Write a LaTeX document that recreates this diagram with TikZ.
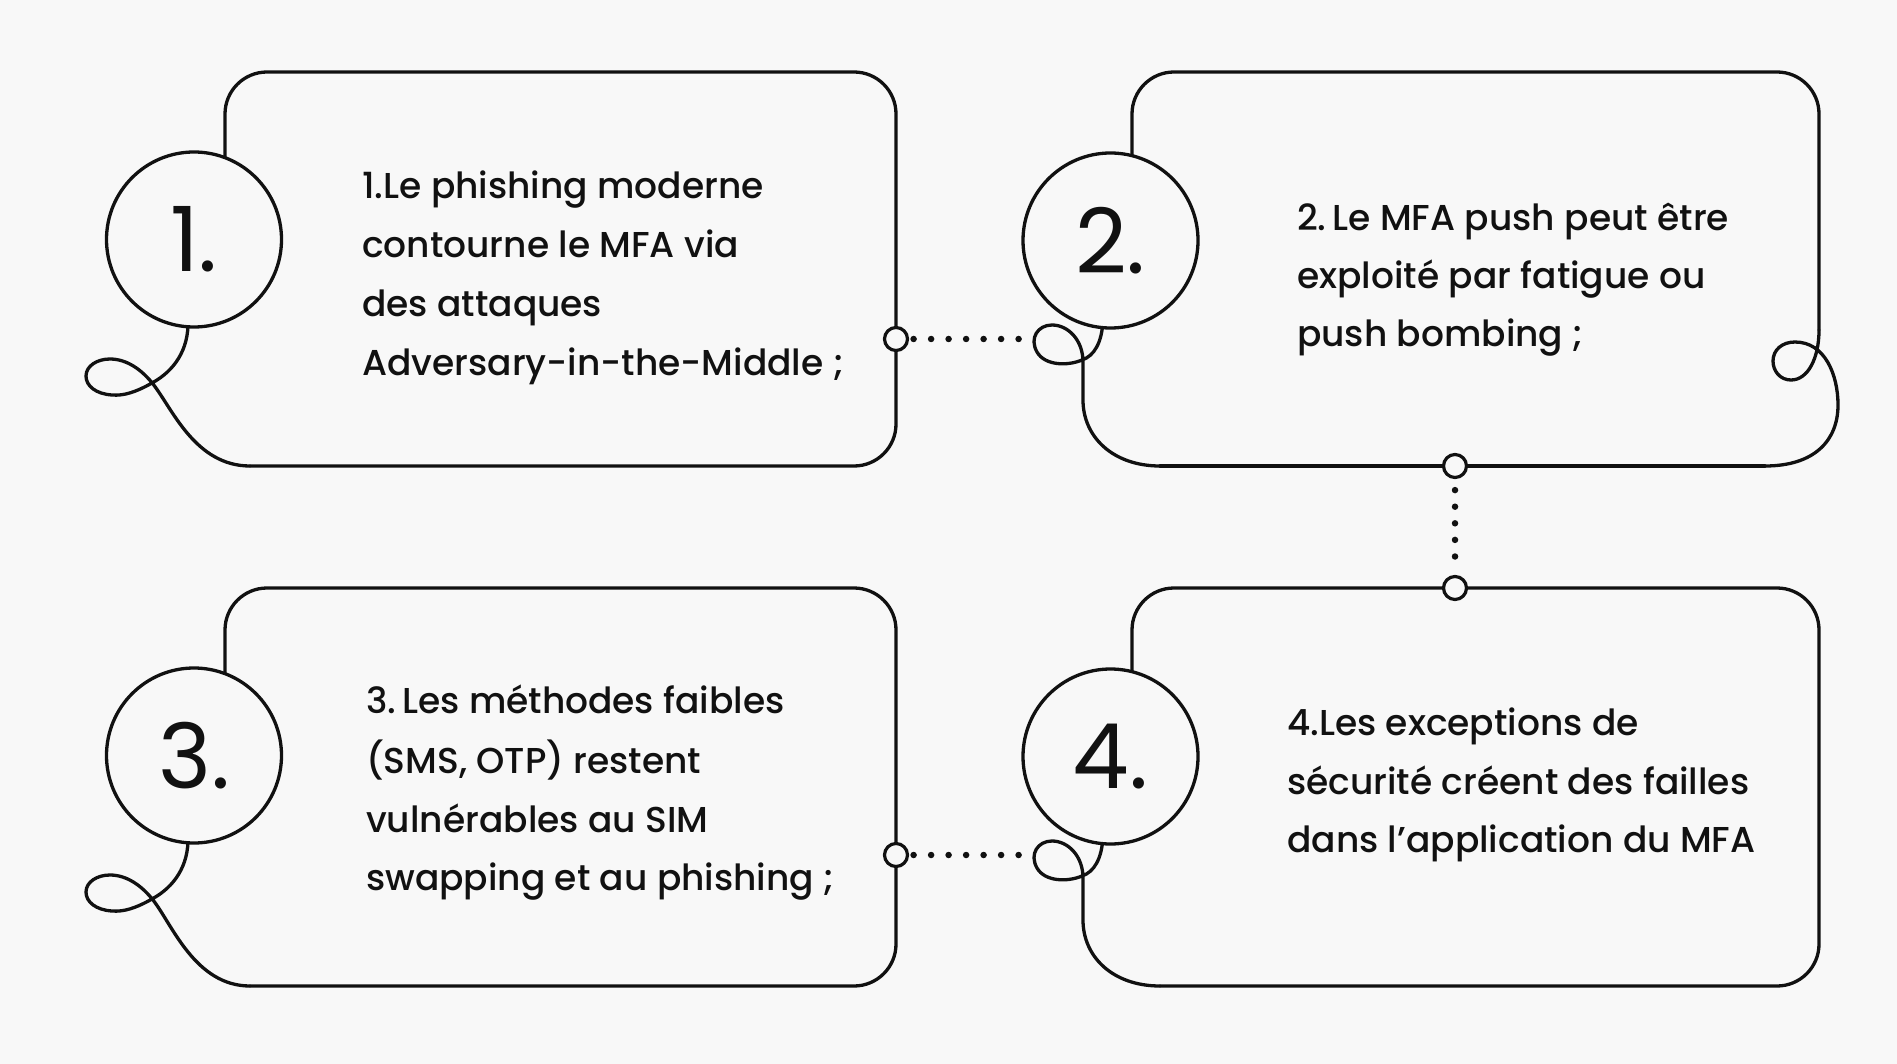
\documentclass[tikz,border=0pt]{standalone}
\usepackage{fontspec}
\setmainfont{Poppins}
\newfontfamily\bodyfont{Poppins Medium}
\usetikzlibrary{calc}
\definecolor{paper}{HTML}{F8F8F8}
\definecolor{ink}{HTML}{111111}

\begin{document}
\begin{tikzpicture}[x=1pt,y=-1pt,
  outline/.style={draw=ink, line width=3.3pt, line cap=round, line join=round},
  bigring/.style={circle, draw=ink, line width=3.3pt, fill=paper, minimum size=175pt,
    inner sep=0pt, text=ink, font=\fontsize{90}{90}\selectfont},
  knob/.style={circle, draw=ink, line width=3.2pt, fill=paper, minimum size=23pt, inner sep=0pt},
  dotrow/.style={draw=ink, line width=6.5pt, line cap=round, dash pattern=on 0pt off 17.5pt},
  dotcol/.style={draw=ink, line width=6.5pt, line cap=round, dash pattern=on 0pt off 16.6pt},
  txt/.style={anchor=base west, inner sep=0pt, text=ink, font=\bodyfont\fontsize{36}{40}\selectfont}]

% page
\path[fill=paper] (0,0) rectangle (1897,1064);

% ---------- card 1 ----------
\draw[outline, rounded corners=42pt] (225,157) -- (225,72) -- (896,72) -- (896,466) -- (250,466);
\draw[outline] (188,320)
  .. controls (189,350) and (174,371) .. (152,383)
  .. controls (136,392) and (124,396) .. (112,395)
  .. controls (96,394) and (86,386) .. (86,376)
  .. controls (86,366) and (97,359) .. (110,359)
  .. controls (127,359) and (142,370) .. (153,384)
  .. controls (172,408) and (195,466) .. (250,466);

% ---------- card 2 ----------
\draw[outline, rounded corners=42pt] (1132,156) -- (1132,72) -- (1819,72) -- (1819,330);
\draw[outline] (1160,466) -- (1765,466);
\draw[outline] (1103,320)
  .. controls (1102,343) and (1094,356) .. (1082,360)
  .. controls (1068,366) and (1045,366) .. (1037,352)
  .. controls (1029,338) and (1038,325) .. (1052,325)
  .. controls (1068,325) and (1083,340) .. (1083,362)
  -- (1083,400)
  .. controls (1083,437) and (1113,466) .. (1160,466);
\draw[outline] (1819,330)
  .. controls (1819,358) and (1808,380) .. (1791,380)
  .. controls (1780,380) and (1773,371) .. (1773,361)
  .. controls (1773,350) and (1782,342) .. (1795,342)
  .. controls (1825,342) and (1838,375) .. (1838,405)
  .. controls (1838,440) and (1815,466) .. (1765,466);

% ---------- cards 3 and 4 ----------
\begin{scope}[shift={(0,516)}]
  \draw[outline, rounded corners=42pt] (225,157) -- (225,72) -- (896,72) -- (896,470) -- (250,470);
  \draw[outline] (188,320)
    .. controls (189,350) and (174,371) .. (152,383)
    .. controls (136,392) and (124,396) .. (112,395)
    .. controls (96,394) and (86,386) .. (86,376)
    .. controls (86,366) and (97,359) .. (110,359)
    .. controls (127,359) and (142,370) .. (153,384)
    .. controls (172,408) and (195,470) .. (250,470);

  \draw[outline, rounded corners=42pt] (1132,156) -- (1132,72) -- (1819,72) -- (1819,470) -- (1160,470);
  \draw[outline] (1103,320)
    .. controls (1102,343) and (1094,356) .. (1082,360)
    .. controls (1068,366) and (1045,366) .. (1037,352)
    .. controls (1029,338) and (1038,325) .. (1052,325)
    .. controls (1068,325) and (1083,340) .. (1083,362)
    -- (1083,404)
    .. controls (1083,441) and (1113,470) .. (1160,470);
\end{scope}

% number rings
\node[bigring] (r1) at (194,239.5) {1.};
\node[bigring] (r2) at (1110.5,240.5) {2.};
\node[bigring] (r3) at (194,755.5) {3.};
\node[bigring] (r4) at (1110.5,756.5) {4.};

% link knobs and loop ends
\node[knob] (k1) at (896,339) {};
\node[knob] (k2) at (1455,466) {};
\node[knob] (k3) at (896,855) {};
\node[knob] (k4) at (1455,588) {};
\coordinate (l2) at (1034,339);
\coordinate (l4) at (1034,855);

% dotted links
\draw[dotrow] ($(k1.east)+(4.5,0)$) -- ($(l2)+(-14,0)$);
\draw[dotrow] ($(k3.east)+(4.5,0)$) -- ($(l4)+(-14,0)$);
\draw[dotcol] ($(k2.south)+(0,11)$) -- ($(k4.north)+(0,-2.5)$);

% texts
\node[txt] (t1a) at (362,199) {1.Le phishing moderne};
\node[txt] (t1b) at (362,258) {contourne le MFA via};
\node[txt] (t1c) at (362,317) {des attaques};
\node[txt] (t1d) at (362,375) {Adversary-in-the-Middle ;};

\node[txt] (t2a) at (1297,231) {2.\,Le MFA push peut être};
\node[txt] (t2b) at (1297,289) {exploité par fatigue ou};
\node[txt] (t2c) at (1297,346) {push bombing ;};

\node[txt] (t3a) at (366,713) {3.\,Les méthodes faibles};
\node[txt] (t3b) at (366,773) {(SMS, OTP) restent};
\node[txt] (t3c) at (366,832) {vulnérables au SIM};
\node[txt] (t3d) at (366,890) {swapping et au phishing ;};

\node[txt] (t4a) at (1287,735) {4.Les exceptions de};
\node[txt] (t4b) at (1287,794) {sécurité créent des failles};
\node[txt] (t4c) at (1287,852) {dans l’application du MFA};
\end{tikzpicture}
\end{document}
